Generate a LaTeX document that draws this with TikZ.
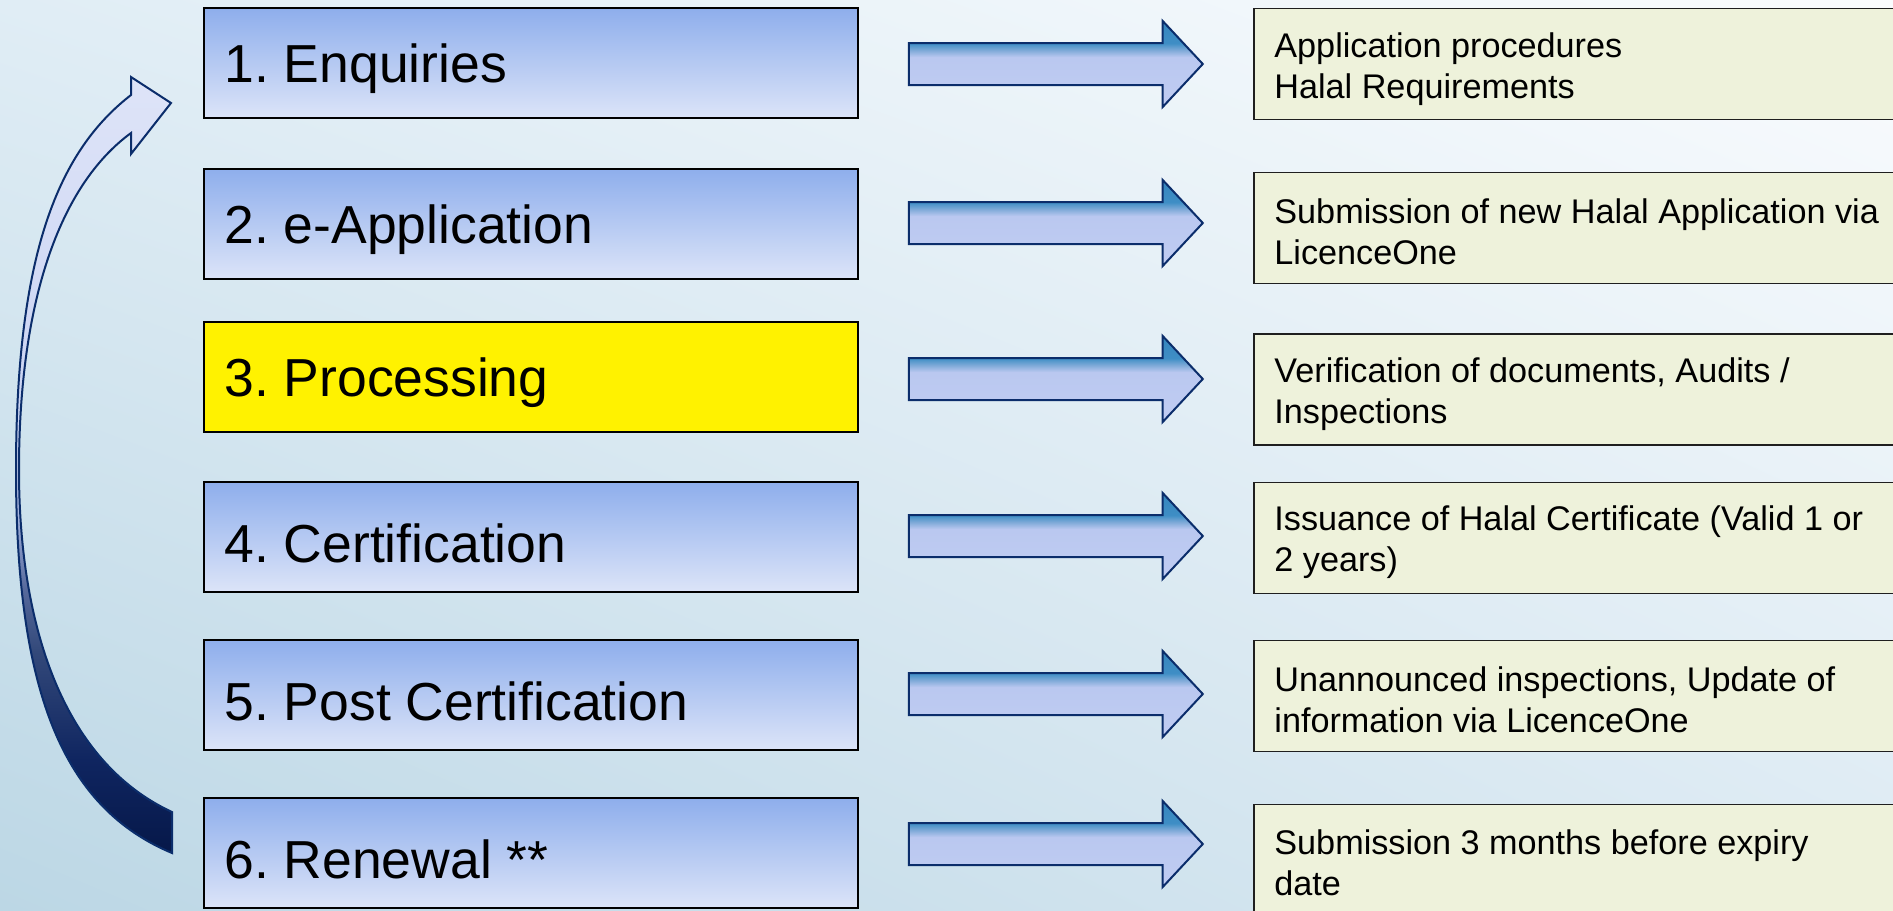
\documentclass[tikz,border=0pt]{standalone}
\usepackage{fontspec}
\setmainfont{Liberation Sans}
\usetikzlibrary{shapes.arrows,shadings}
\definecolor{bgul}{HTML}{E0EDF5}
\definecolor{bgur}{HTML}{FAFCFE}
\definecolor{bgll}{HTML}{BCD7E5}
\definecolor{bglr}{HTML}{DCEAF3}
\definecolor{lboxtop}{HTML}{8EAEEC}
\definecolor{lboxbot}{HTML}{DCE4F8}
\definecolor{rboxfill}{HTML}{EEF2DB}
\definecolor{navy}{HTML}{0B2D6B}
\definecolor{cva}{HTML}{061849}
\definecolor{cvb}{HTML}{0F2560}
\definecolor{cvc}{HTML}{33497A}
\definecolor{cvd}{HTML}{56699C}
\definecolor{cve}{HTML}{A8B6E0}
\definecolor{cvf}{HTML}{C8D2F2}
\definecolor{cvg}{HTML}{DEE4F8}
\definecolor{aa}{HTML}{C0CCF2}
\definecolor{ab}{HTML}{BAC8F0}
\definecolor{ac}{HTML}{7FAAD8}
\definecolor{ad}{HTML}{3F8EC5}
\definecolor{ae}{HTML}{3585BD}
\pgfdeclareverticalshading{curvshade}{100bp}{color(0bp)=(cva); color(25bp)=(cva); color(31bp)=(cvb); color(38bp)=(cvc); color(42bp)=(cvd); color(47bp)=(cve); color(51bp)=(cvf); color(75bp)=(cvg); color(100bp)=(cvg)}
\pgfdeclareverticalshading{arrshade}{100bp}{color(0bp)=(aa); color(25bp)=(aa); color(54bp)=(ab); color(58bp)=(ac); color(62bp)=(ad); color(75bp)=(ae); color(100bp)=(ae)}
\begin{document}
\frenchspacing
\begin{tikzpicture}[x=0.5pt,y=-0.5pt,
  lbox/.style={draw=black, line width=1pt, top color=lboxtop, bottom color=lboxbot,
    minimum width=327pt, minimum height=55pt},
  ybox/.style={draw=black, line width=1pt, fill=yellow,
    minimum width=327pt, minimum height=55pt},
  ltext/.style={anchor=west, inner sep=0pt, font=\fontsize{26.75}{32}\selectfont},
  rbox/.style={draw=black!88, line width=0.8pt, fill=rboxfill, anchor=west,
    minimum width=340pt, minimum height=55.5pt},
  rtext/.style={anchor=west, inner sep=0pt, align=left,
    font=\fontsize{17.1}{20.5}\selectfont},
  barrow/.style={single arrow, draw=navy, line width=1pt, shading=arrshade,
    minimum height=147pt, minimum width=42pt, single arrow head extend=11pt,
    single arrow tip angle=94, inner xsep=0pt, inner ysep=10pt},
  curvarrow/.style={draw=navy, line width=1pt, line join=miter, shading=curvshade}
]
\useasboundingbox (0,0) rectangle (1893,910);
\clip (0,0) rectangle (1893,910);
\shade[upper left=bgul, upper right=bgur, lower left=bgll, lower right=bglr] (0,0) rectangle (1893,910);

\node[lbox] (s1) at (531,63) {};
\node[lbox] (s2) at (531,223.5) {};
\node[ybox] (s3) at (531,377) {};
\node[lbox] (s4) at (531,537) {};
\node[lbox] (s5) at (531,695) {};
\node[lbox] (s6) at (531,853) {};
\node[ltext] (l1) at ([xshift=10.5pt,yshift=-3pt]s1.west) {1. Enquiries};
\node[ltext] (l2) at ([xshift=10.5pt,yshift=-3pt]s2.west) {2. e-Application};
\node[ltext] (l3) at ([xshift=10.5pt,yshift=-3pt]s3.west) {3. Processing};
\node[ltext] (l4) at ([xshift=10.5pt,yshift=-3pt]s4.west) {4. Certification};
\node[ltext] (l5) at ([xshift=10.5pt,yshift=-3pt]s5.west) {5. Post Certification};
\node[ltext] (l6) at ([xshift=10.5pt,yshift=-3pt]s6.west) {6. Renewal **};

\node[barrow] (a1) at (1046,64) {};
\node[barrow] (a2) at (1046,223) {};
\node[barrow] (a3) at (1046,379) {};
\node[barrow] (a4) at (1046,536) {};
\node[barrow] (a5) at (1046,694) {};
\node[barrow] (a6) at (1046,844) {};

\node[rbox] (d1) at (1253,64) {};
\node[rbox] (d2) at (1253,228) {};
\node[rbox] (d3) at (1253,389.5) {};
\node[rbox] (d4) at (1253,538) {};
\node[rbox] (d5) at (1253,696) {};
\node[rbox] (d6) at (1253,860) {};
\node[rtext] (t1) at ([xshift=10.5pt,yshift=-2.5pt]d1.west) {Application procedures\\Halal Requirements};
\node[rtext] (t2) at ([xshift=10.5pt,yshift=-2pt]d2.west) {Submission of new Halal Application via\\LicenceOne};
\node[rtext] (t3) at ([xshift=10.5pt,yshift=-2.5pt]d3.west) {Verification of documents, Audits /\\Inspections};
\node[rtext] (t4) at ([xshift=10.5pt,yshift=-2pt]d4.west) {Issuance of Halal Certificate (Valid 1 or\\2 years)};
\node[rtext] (t5) at ([xshift=10.5pt,yshift=-2pt]d5.west) {Unannounced inspections, Update of\\information via LicenceOne};
\node[rtext] (t6) at ([xshift=10.5pt,yshift=-1.5pt]d6.west) {Submission 3 months before expiry\\date};

\path[curvarrow] (172,853) .. controls (62,807) and (16,690) .. (16,470)
  .. controls (16,250) and (60,150) .. (131,95)
  -- (131,77) -- (171,103) -- (131,154) -- (131,133)
  .. controls (60,185) and (19,300) .. (19,470)
  .. controls (19,620) and (60,760) .. (172,812)
  -- cycle;
\end{tikzpicture}
\end{document}
